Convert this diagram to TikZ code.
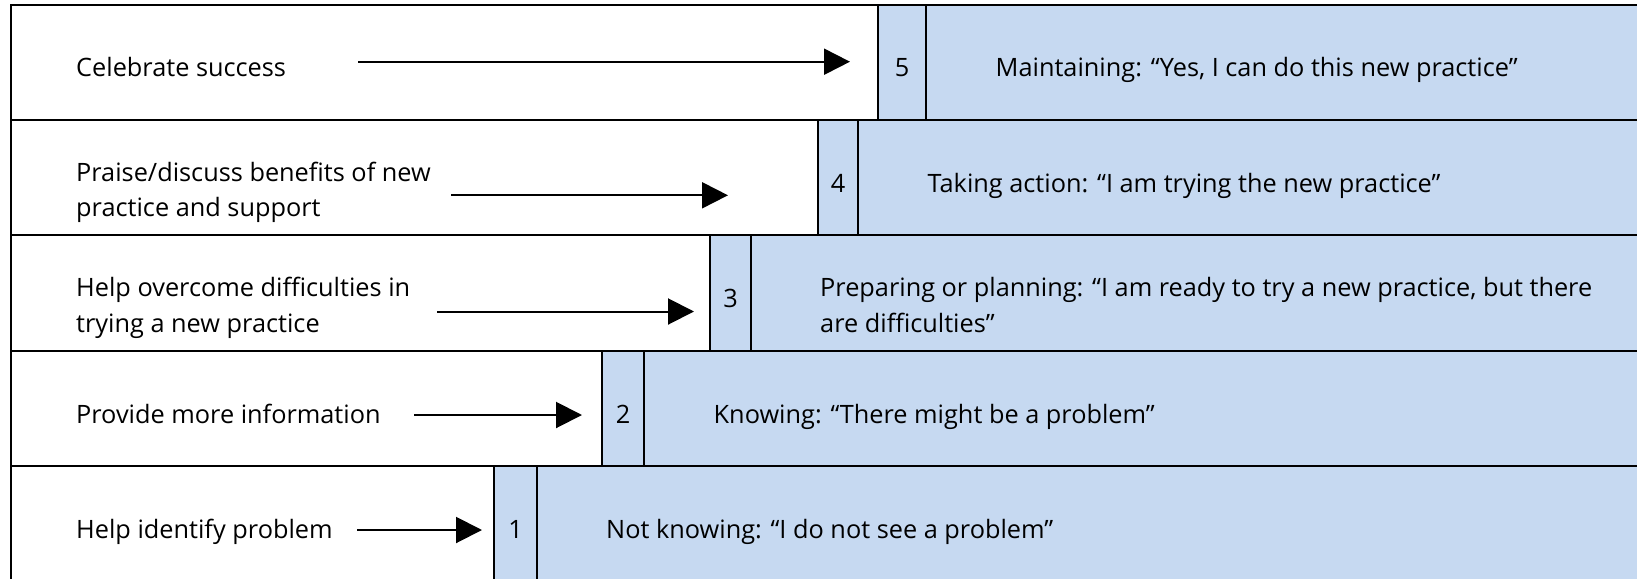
\documentclass[tikz,border=0pt]{standalone}
\usepackage{fontspec}
\setmainfont{Open Sans}
\usetikzlibrary{arrows.meta}
\definecolor{cellblue}{HTML}{C6D9F1}
\begin{document}
\begin{tikzpicture}[x=1pt,y=-1pt,
  cell/.style={draw=black, line width=2.8pt, fill=white},
  bluecell/.style={draw=black, line width=2.8pt, fill=cellblue},
  lbl/.style={anchor=base west, inner sep=0pt, align=left, font=\fontsize{25.3}{35.7}\selectfont},
  numlbl/.style={anchor=base, inner sep=0pt, font=\fontsize{25.3}{35.7}\selectfont},
  arr/.style={-{Triangle[length=26pt,width=26pt]}, line width=2pt}]
\useasboundingbox (0,0) rectangle (1637,578);
\clip (0,0) rectangle (1637,578);
\fill[white] (0,0) rectangle (1637,578);
% cells: top / bottom / white right / number right
\foreach \T/\B/\W/\N in {5/120/878/926, 120/235/818/858, 235/351/710/751, 351/466/602/644, 466/581/494/537}{
  \path[cell] (11,\T) rectangle (\W,\B);
  \path[bluecell] (\W,\T) rectangle (\N,\B);
  \path[bluecell] (\N,\T) rectangle (1650,\B);
}
% left texts (base anchor = baseline of last line)
\node[lbl] (l1) at (76,77) {Celebrate success};
\node[lbl] (l2) at (76,216.7) {Praise/discuss benefits of new\\practice and support};
\node[lbl] (l3) at (76,332) {Help overcome difficulties in\\trying a new practice};
\node[lbl] (l4) at (76,423) {Provide more information};
\node[lbl] (l5) at (76,538) {Help identify problem};
% numbers
\node[numlbl] (n5) at (902,77) {5};
\node[numlbl] (n4) at (838,192) {4};
\node[numlbl] (n3) at (730.5,307.5) {3};
\node[numlbl] (n2) at (623,423) {2};
\node[numlbl] (n1) at (515.5,538) {1};
% right texts
\node[lbl] (r5) at (995.5,77) {Maintaining: “Yes, I can do this new practice”};
\node[lbl] (r4) at (927.5,192) {Taking action: “I am trying the new practice”};
\node[lbl] (r3) at (820,332) {Preparing or planning: “I am ready to try a new practice, but there\\are difficulties”};
\node[lbl] (r2) at (713.5,423) {Knowing: “There might be a problem”};
\node[lbl] (r1) at (606,538) {Not knowing: “I do not see a problem”};
% arrows
\coordinate (a1s) at (358,61.7);  \coordinate (a1e) at (850,61.7);
\coordinate (a2s) at (451,195.3); \coordinate (a2e) at (728,195.3);
\coordinate (a3s) at (437,311.5); \coordinate (a3e) at (694,311.5);
\coordinate (a4s) at (414,415);   \coordinate (a4e) at (582,415);
\coordinate (a5s) at (357,530);   \coordinate (a5e) at (482,530);
\draw[arr] (a1s) -- (a1e);
\draw[arr] (a2s) -- (a2e);
\draw[arr] (a3s) -- (a3e);
\draw[arr] (a4s) -- (a4e);
\draw[arr] (a5s) -- (a5e);
\end{tikzpicture}
\end{document}
